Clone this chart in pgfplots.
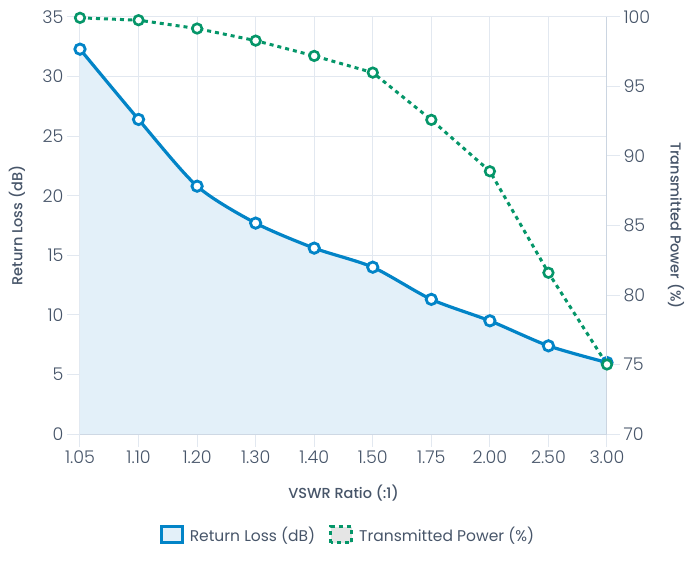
\documentclass[border=0pt]{standalone}
\usepackage{pgfplots}
\pgfplotsset{compat=1.18}
\usepackage{fontspec}
\setmainfont{Poppins}[UprightFont=* Light, BoldFont=* Medium]
\newfontfamily\legfont{Poppins}[UprightFont=* Regular]
\definecolor{rlblue}{HTML}{0284C7}
\definecolor{tpgreen}{HTML}{059669}
\definecolor{gridc}{HTML}{E2E8F0}
\definecolor{axc}{HTML}{CBD5E1}
\definecolor{txt}{HTML}{475569}
\definecolor{fillc}{HTML}{E3F0F9}
\begin{document}
\begin{tikzpicture}[x=1pt,y=1pt]
\useasboundingbox (0,0) rectangle (693,560);
\pgfplotsset{
 common/.style={
  at={(80pt,126pt)}, anchor=south west,
  scale only axis, width=527pt, height=417pt,
  xmin=0, xmax=9,
  /pgf/number format/assume math mode=true,
  tick label style={font=\fontsize{17.5}{20}\selectfont, text=txt},
  label style={font=\bfseries\fontsize{14.5}{18}\selectfont, text=txt},
  tick align=outside, major tick length=13pt,
  tick style={gridc, line width=1pt},
 }
}
\begin{axis}[common,
  ymin=0, ymax=35, ytick={0,5,...,35},
  xtick={0,...,9},
  xticklabels={1.05,1.10,1.20,1.30,1.40,1.50,1.75,2.00,2.50,3.00},
  grid=major, grid style={gridc, line width=1pt},
  axis x line*=bottom, axis y line*=left,
  axis line style={axc, line width=1pt, -},
  y axis line style={draw=none},
  xlabel={VSWR Ratio (:1)},
  ylabel={Return Loss (dB)},
  xlabel style={at={(axis description cs:0.5,-0.1415)}, anchor=center},
  ylabel style={at={(axis description cs:-0.1195,0.5)}, anchor=center},
  clip=false,
]
\addplot[smooth, tension=0.45, fill=fillc, draw=none, forget plot]
  coordinates {(0,32.3) (1,26.4) (2,20.8) (3,17.7) (4,15.6) (5,14.0) (6,11.3) (7,9.5) (8,7.4) (9,6.0)} \closedcycle;
\addplot[smooth, tension=0.45, rlblue, line width=3.2pt, mark=*, mark size=5.2pt,
  mark options={fill=white, draw=rlblue, line width=2.8pt, solid}]
  coordinates {(0,32.3) (1,26.4) (2,20.8) (3,17.7) (4,15.6) (5,14.0) (6,11.3) (7,9.5) (8,7.4) (9,6.0)};
\end{axis}
\begin{axis}[common,
  ymin=70, ymax=100, ytick={70,75,...,100},
  axis x line=none, axis y line*=right,
  axis line style={axc, line width=1pt, -},
  ylabel={Transmitted Power (\%)},
  ylabel style={at={(axis description cs:1.131,0.5)}, anchor=center, rotate=180},
  legend columns=2,
  legend style={at={(axis description cs:0.5,-0.242)}, anchor=center, xshift=4.5pt, draw=none, fill=none,
    font=\legfont\fontsize{15.5}{18}\selectfont, text=txt,
    /tikz/every odd column/.append style={column sep=4pt},
    /tikz/every even column/.append style={column sep=12pt}},
  legend cell align=left,
  clip=false,
]
\addlegendimage{legend image code/.code={\draw[rlblue, line width=3pt, fill=fillc] (0pt,-8pt) rectangle (21pt,8pt);}}
\addlegendentry{Return Loss (dB)}
\addplot[tpgreen, line width=3pt, dash pattern=on 4pt off 4pt, mark=*, mark size=4.8pt,
  mark options={fill=white, draw=tpgreen, line width=2.6pt, solid},
  legend image code/.code={\draw[tpgreen, line width=3pt, dash pattern=on 4pt off 4pt, fill=gray!20] (0pt,-8pt) rectangle (21pt,8pt);}]
  coordinates {(0,99.94) (1,99.77) (2,99.17) (3,98.30) (4,97.20) (5,96.00) (6,92.60) (7,88.90) (8,81.60) (9,75.00)};
\addlegendentry{Transmitted Power (\%)}
\end{axis}
\end{tikzpicture}
\end{document}
